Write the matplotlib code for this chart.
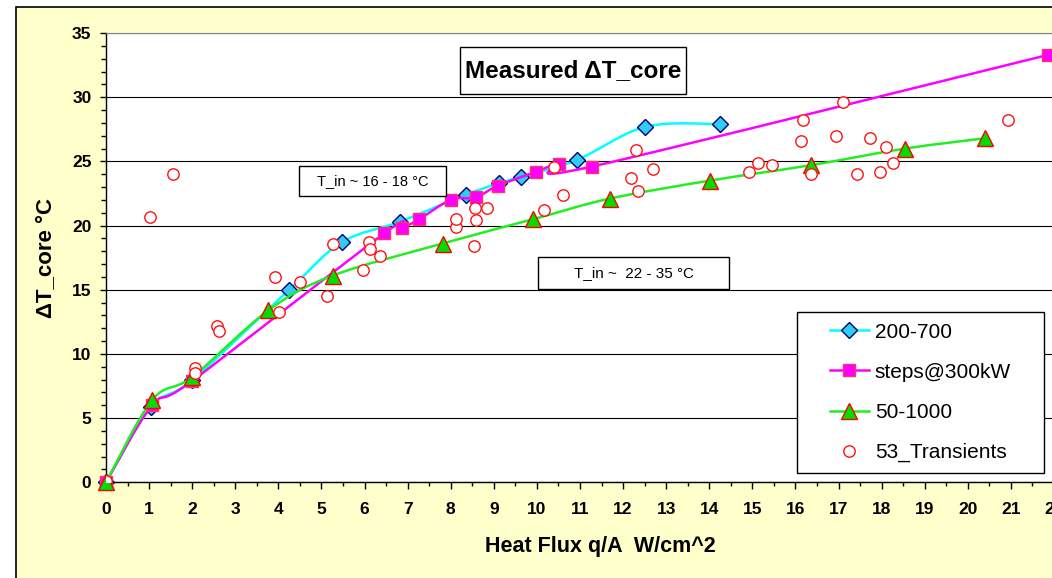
import numpy as np
import matplotlib
matplotlib.use('Agg')
import matplotlib.pyplot as plt
from matplotlib.path import Path
from matplotlib.patches import PathPatch, Rectangle
from matplotlib.lines import Line2D
from matplotlib.ticker import MultipleLocator

plt.rcParams['font.family'] = ['Liberation Sans', 'DejaVu Sans']

# values
x_200_700 = [0, 1.05, 2.0, 4.25, 5.47, 6.82, 8.35, 9.12, 9.64, 10.92, 12.52, 14.26]
y_200_700 = [0, 5.9, 7.95, 15.0, 18.7, 20.3, 22.4, 23.3, 23.8, 25.1, 27.7, 27.9]

x_steps = [0, 1.07, 2.0, 6.46, 6.87, 7.27, 8.0, 8.58, 9.09, 9.99, 10.51, 11.28, 21.87]
y_steps = [0, 6.0, 7.9, 19.4, 19.8, 20.5, 22.0, 22.2, 23.1, 24.2, 24.8, 24.6, 33.3]

x_50_1000 = [0, 1.07, 2.0, 3.77, 5.26, 7.81, 9.92, 11.69, 14.01, 16.35, 18.55, 20.4]
y_50_1000 = [0, 6.4, 8.2, 13.4, 16.1, 18.6, 20.5, 22.1, 23.5, 24.7, 26.0, 26.8]

x_trans = [0, 1.02, 1.55, 2.06, 2.06, 2.57, 2.63, 3.92, 4.02, 4.5, 5.14, 5.26, 5.97,
           6.11, 6.13, 6.37, 8.12, 8.13, 8.55, 8.56, 8.58, 8.85, 10.16, 10.39, 10.61,
           12.18, 12.3, 12.34, 12.7, 14.93, 15.14, 15.45, 16.13, 16.18, 16.37, 16.93,
           17.11, 17.42, 17.73, 17.96, 18.11, 18.26, 20.94]
y_trans = [0.1, 20.7, 24.0, 8.9, 8.5, 12.2, 11.8, 16.0, 13.3, 15.6, 14.5, 18.6, 16.5,
           18.7, 18.2, 17.6, 19.9, 20.5, 18.4, 21.4, 20.4, 21.4, 21.2, 24.6, 22.4,
           23.7, 25.9, 22.7, 24.4, 24.2, 24.9, 24.7, 26.6, 28.2, 24.0, 27.0,
           29.6, 24.0, 26.8, 24.2, 26.1, 24.9, 28.2]

W, H = 1052, 578


def smooth_path(xs, ys):
    # Excel-like smoothed line: cubic bezier through the points
    p = np.column_stack([xs, ys]).astype(float)
    n = len(p)
    verts = [p[0]]
    codes = [Path.MOVETO]
    for i in range(n - 1):
        prev = p[max(i - 1, 0)]
        nxt = p[min(i + 2, n - 1)]
        c1 = p[i] + (p[i + 1] - prev) / 6
        c2 = p[i + 1] - (nxt - p[i]) / 6
        verts += [c1, c2, p[i + 1]]
        codes += [Path.CURVE4] * 3
    return Path(verts, codes)


def fx(px):
    return px / W


def fy(py):
    return 1 - py / H


fig = plt.figure(figsize=(W / 100, H / 100), dpi=100)
fig.patch.set_facecolor('white')
fig.patches.append(Rectangle((fx(16), -0.1), 1.2, fy(7) + 0.1, transform=fig.transFigure,
                             facecolor='#FFFFCC', edgecolor='black', lw=1.2, zorder=-1))

x0px, x1px, y0px, y1px = 106, 1054, 33, 482.3
ax = fig.add_axes([fx(x0px), fy(y1px), (x1px - x0px) / W, (y1px - y0px) / H])
ax.set_facecolor('white')
ax.set_xlim(0, 22)
ax.set_ylim(0, 35)
ax.xaxis.set_major_locator(MultipleLocator(1))
ax.xaxis.set_minor_locator(MultipleLocator(0.5))
ax.yaxis.set_major_locator(MultipleLocator(5))
ax.yaxis.set_minor_locator(MultipleLocator(1))
ax.grid(axis='y', which='major', color='black', lw=0.8)
ax.set_axisbelow(True)
for s in ['top', 'right']:
    ax.spines[s].set_color('#808080')
for s in ['left', 'bottom']:
    ax.spines[s].set_color('black')
    ax.spines[s].set_linewidth(1.0)
ax.tick_params(axis='both', which='both', direction='out', width=1.0)
ax.tick_params(axis='x', which='major', length=5, pad=9, labelsize=12.5)
ax.tick_params(axis='x', which='minor', length=3)
ax.tick_params(axis='y', which='major', length=4.5, pad=6, labelsize=12.5)
ax.tick_params(axis='y', which='minor', length=3.5)
for lab in ax.get_xticklabels() + ax.get_yticklabels():
    lab.set_fontweight('bold')

# series
styles = [
    (x_200_700, y_200_700, '#00FFFF', 'D', '#33CCEE', '#000080', 8.5, '200-700'),
    (x_steps, y_steps, '#FF00FF', 's', '#FF00FF', '#FF3366', 8, 'steps@300kW'),
    (x_50_1000, y_50_1000, '#22EE22', '^', '#00DD00', '#FF0000', 12, '50-1000'),
]
handles = []
z = 2
for xs, ys, lc, mk, mfc, mec, ms, lab in styles:
    ax.add_patch(PathPatch(smooth_path(xs, ys), facecolor='none', edgecolor=lc, lw=1.8, zorder=z))
    ax.plot(xs, ys, ls='none', marker=mk, ms=ms, mfc=mfc, mec=mec, mew=1.0, zorder=z + 0.1,
            clip_on=False)
    handles.append(Line2D([], [], color=lc, lw=1.8, marker=mk, ms=ms, mfc=mfc, mec=mec,
                          mew=1.0, label=lab))
    z += 0.2
ax.plot(x_trans, y_trans, ls='none', marker='o', ms=8.2, mfc='white', mec='#FF1111',
        mew=1.0, zorder=3)
handles.append(Line2D([], [], ls='none', marker='o', ms=8.2, mfc='white', mec='#FF1111',
                      mew=1.0, label='53_Transients'))

# legend: own frame at the reference position, contents centred in it
lx0, lx1, ly0, ly1 = 797, 1044, 312, 473
ax.add_patch(Rectangle((fx(lx0), fy(ly1)), fx(lx1) - fx(lx0), fy(ly0) - fy(ly1),
                       transform=fig.transFigure, facecolor='white', edgecolor='black',
                       lw=1.0, zorder=5))
leg = ax.legend(handles=handles, loc='center',
                bbox_to_anchor=(((lx0 + lx1) / 2 - x0px) / (x1px - x0px),
                                (y1px - (ly0 + ly1) / 2) / (y1px - y0px)),
                fontsize=15, labelspacing=1.02, handlelength=1.85, handletextpad=0.3,
                borderpad=0.3, frameon=False)
leg.set_zorder(6)

ax.set_xlabel('Heat Flux q/A  W/cm^2', fontsize=15.5, fontweight='bold')
ax.xaxis.set_label_coords((600 - x0px) / (x1px - x0px), (y1px - 546.7) / (y1px - y0px))
ax.xaxis.label.set_va('center')
ax.set_ylabel('\u0394T_core \u00b0C', fontsize=16, fontweight='bold')
ax.yaxis.set_label_coords((47 - x0px) / (x1px - x0px), 0.5)
ax.yaxis.label.set_va('center')


def box(x0, y0, x1, y1, text, size, weight='normal'):
    fig.patches.append(Rectangle((fx(x0), fy(y1)), fx(x1) - fx(x0), fy(y0) - fy(y1),
                                 transform=fig.transFigure, facecolor='white',
                                 edgecolor='black', lw=1.0, zorder=4))
    fig.text(fx((x0 + x1) / 2), fy((y0 + y1) / 2), text, fontsize=size, fontweight=weight,
             ha='center', va='center', zorder=5)


box(460, 47, 686, 94, 'Measured \u0394T_core', 17.5, 'bold')
box(299, 166, 446, 196, 'T_in ~ 16 - 18 \u00b0C', 10.5)
box(538, 257, 729, 289, 'T_in ~  22 - 35 \u00b0C', 11)

fig.savefig('out.png', dpi=100)
